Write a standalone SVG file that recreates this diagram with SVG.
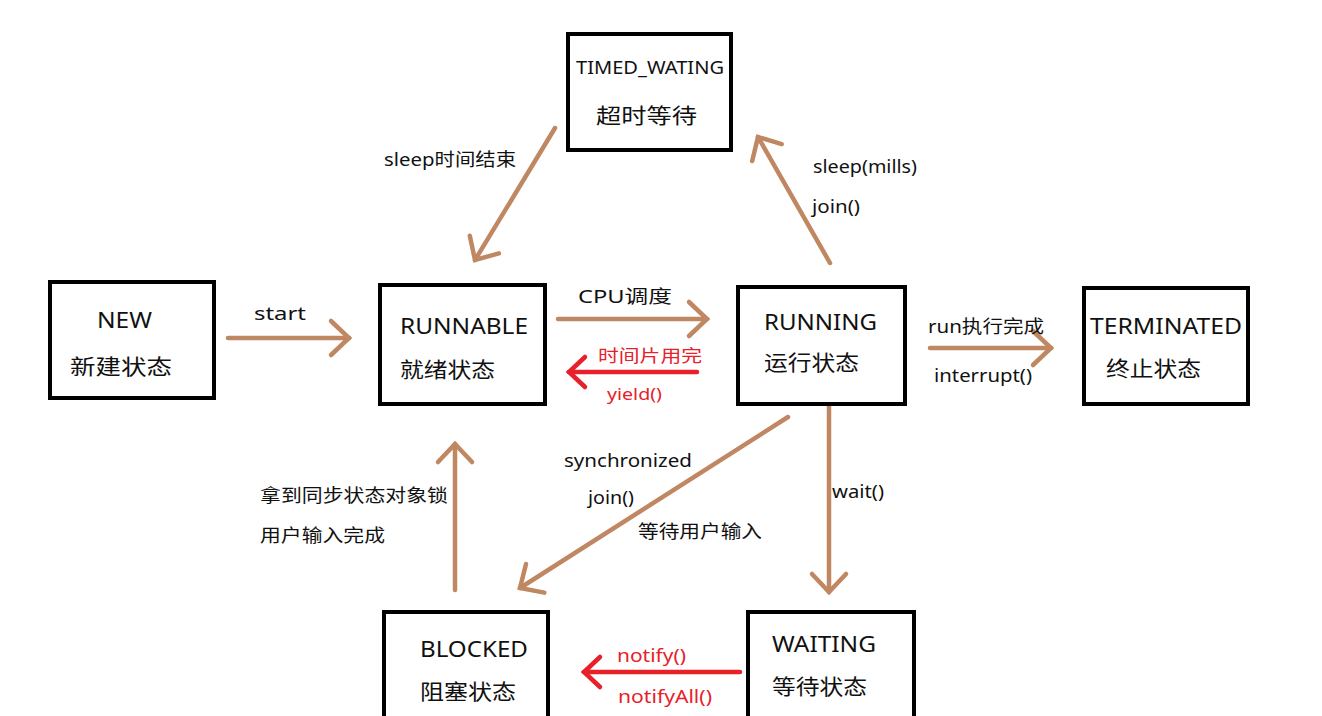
<svg xmlns="http://www.w3.org/2000/svg" width="1322" height="716" viewBox="0 0 1322 716">
<style>
.box{fill:#fff;stroke:#000;stroke-width:4}
.t{font-family:"Noto Sans","Noto Sans CJK SC",sans-serif;fill:#111}
.n{font-size:21px}
.l{font-size:18px}
.r{fill:#e8202a}
.a{fill:none;stroke:#c08862;stroke-width:4.5;stroke-linecap:round}
.ar{fill:none;stroke:#e8202a;stroke-width:4.5;stroke-linecap:round}
</style>
<defs>
<marker id="hb" markerUnits="userSpaceOnUse" viewBox="-24 -22 28 44" markerWidth="28" markerHeight="44" refX="0" refY="0" orient="auto">
<path d="M-18,-17 L0,0 L-18,17" fill="none" stroke="#c08862" stroke-width="4.5" stroke-linecap="round"/>
</marker>
<marker id="hr" markerUnits="userSpaceOnUse" viewBox="-24 -22 28 44" markerWidth="28" markerHeight="44" refX="0" refY="0" orient="auto">
<path d="M-16,-15 L0,0 L-16,15" fill="none" stroke="#e8202a" stroke-width="4.5" stroke-linecap="round"/>
</marker>
</defs>
<rect width="1322" height="716" fill="#fff"/>
<g id="connectors">
<line class="a" x1="228" y1="338" x2="349" y2="338" marker-end="url(#hb)"/>
<line class="a" x1="558" y1="319" x2="707" y2="319" marker-end="url(#hb)"/>
<line class="ar" x1="697" y1="372" x2="569" y2="372" marker-end="url(#hr)"/>
<line class="a" x1="930" y1="348" x2="1051" y2="348" marker-end="url(#hb)"/>
<line class="a" x1="555" y1="128" x2="475" y2="260" marker-end="url(#hb)"/>
<line class="a" x1="830" y1="263" x2="758" y2="137" marker-end="url(#hb)"/>
<line class="a" x1="788" y1="417" x2="520" y2="588" marker-end="url(#hb)"/>
<line class="a" x1="829" y1="406" x2="829" y2="592" marker-end="url(#hb)"/>
<line class="a" x1="455" y1="590" x2="455" y2="444" marker-end="url(#hb)"/>
<line class="ar" x1="740" y1="672" x2="584" y2="672" marker-end="url(#hr)"/>
<g class="t l">
<text x="254" y="320" textLength="52" lengthAdjust="spacingAndGlyphs">start</text>
<text x="578" y="303" textLength="94" lengthAdjust="spacingAndGlyphs">CPU调度</text>
<text class="r" x="598" y="362" font-size="17" textLength="104" lengthAdjust="spacingAndGlyphs">时间片用完</text>
<text class="r" x="607" y="400" font-size="17" textLength="55" lengthAdjust="spacingAndGlyphs">yield()</text>
<text x="928" y="333" textLength="116" lengthAdjust="spacingAndGlyphs">run执行完成</text>
<text x="934" y="382" textLength="98" lengthAdjust="spacingAndGlyphs">interrupt()</text>
<text x="384" y="166" textLength="132" lengthAdjust="spacingAndGlyphs">sleep时间结束</text>
<text x="813" y="173" textLength="104" lengthAdjust="spacingAndGlyphs">sleep(mills)</text>
<text x="812" y="213" textLength="48" lengthAdjust="spacingAndGlyphs">join()</text>
<text x="564" y="467" textLength="128" lengthAdjust="spacingAndGlyphs">synchronized</text>
<text x="588" y="504" textLength="46" lengthAdjust="spacingAndGlyphs">join()</text>
<text x="638" y="538" textLength="124" lengthAdjust="spacingAndGlyphs">等待用户输入</text>
<text x="832" y="498" textLength="52" lengthAdjust="spacingAndGlyphs">wait()</text>
<text x="260" y="502" textLength="188" lengthAdjust="spacingAndGlyphs">拿到同步状态对象锁</text>
<text x="260" y="542" textLength="125" lengthAdjust="spacingAndGlyphs">用户输入完成</text>
<text class="r" x="617" y="662" textLength="69" lengthAdjust="spacingAndGlyphs">notify()</text>
<text class="r" x="618" y="703" textLength="94" lengthAdjust="spacingAndGlyphs">notifyAll()</text>
</g>
</g>
<g id="NEW">
<rect class="box" x="50" y="282" width="164" height="116"/>
<text class="t n" x="97" y="328" textLength="55" lengthAdjust="spacingAndGlyphs">NEW</text>
<text class="t n" x="70" y="374" textLength="102" lengthAdjust="spacingAndGlyphs">新建状态</text>
</g>
<g id="RUNNABLE">
<rect class="box" x="380" y="285" width="165" height="119"/>
<text class="t n" x="400" y="334" textLength="128" lengthAdjust="spacingAndGlyphs">RUNNABLE</text>
<text class="t n" x="400" y="377" textLength="95" lengthAdjust="spacingAndGlyphs">就绪状态</text>
</g>
<g id="RUNNING">
<rect class="box" x="738" y="287" width="167" height="117"/>
<text class="t n" x="764" y="330" textLength="113" lengthAdjust="spacingAndGlyphs">RUNNING</text>
<text class="t n" x="764" y="370" textLength="95" lengthAdjust="spacingAndGlyphs">运行状态</text>
</g>
<g id="TERMINATED">
<rect class="box" x="1084" y="288" width="164" height="116"/>
<text class="t n" x="1090" y="334" textLength="152" lengthAdjust="spacingAndGlyphs">TERMINATED</text>
<text class="t n" x="1106" y="376" textLength="95" lengthAdjust="spacingAndGlyphs">终止状态</text>
</g>
<g id="TIMED_WATING">
<rect class="box" x="568" y="34" width="163" height="116"/>
<text class="t" font-size="18" x="576" y="74" textLength="148" lengthAdjust="spacingAndGlyphs">TIMED_WATING</text>
<text class="t n" x="596" y="123" textLength="101" lengthAdjust="spacingAndGlyphs">超时等待</text>
</g>
<g id="BLOCKED">
<rect class="box" x="384" y="612" width="164" height="116"/>
<text class="t n" x="420" y="657" textLength="108" lengthAdjust="spacingAndGlyphs">BLOCKED</text>
<text class="t n" x="420" y="699" textLength="96" lengthAdjust="spacingAndGlyphs">阻塞状态</text>
</g>
<g id="WAITING">
<rect class="box" x="748" y="612" width="166" height="116"/>
<text class="t n" x="772" y="652" textLength="104" lengthAdjust="spacingAndGlyphs">WAITING</text>
<text class="t n" x="772" y="694" textLength="95" lengthAdjust="spacingAndGlyphs">等待状态</text>
</g>
</svg>
